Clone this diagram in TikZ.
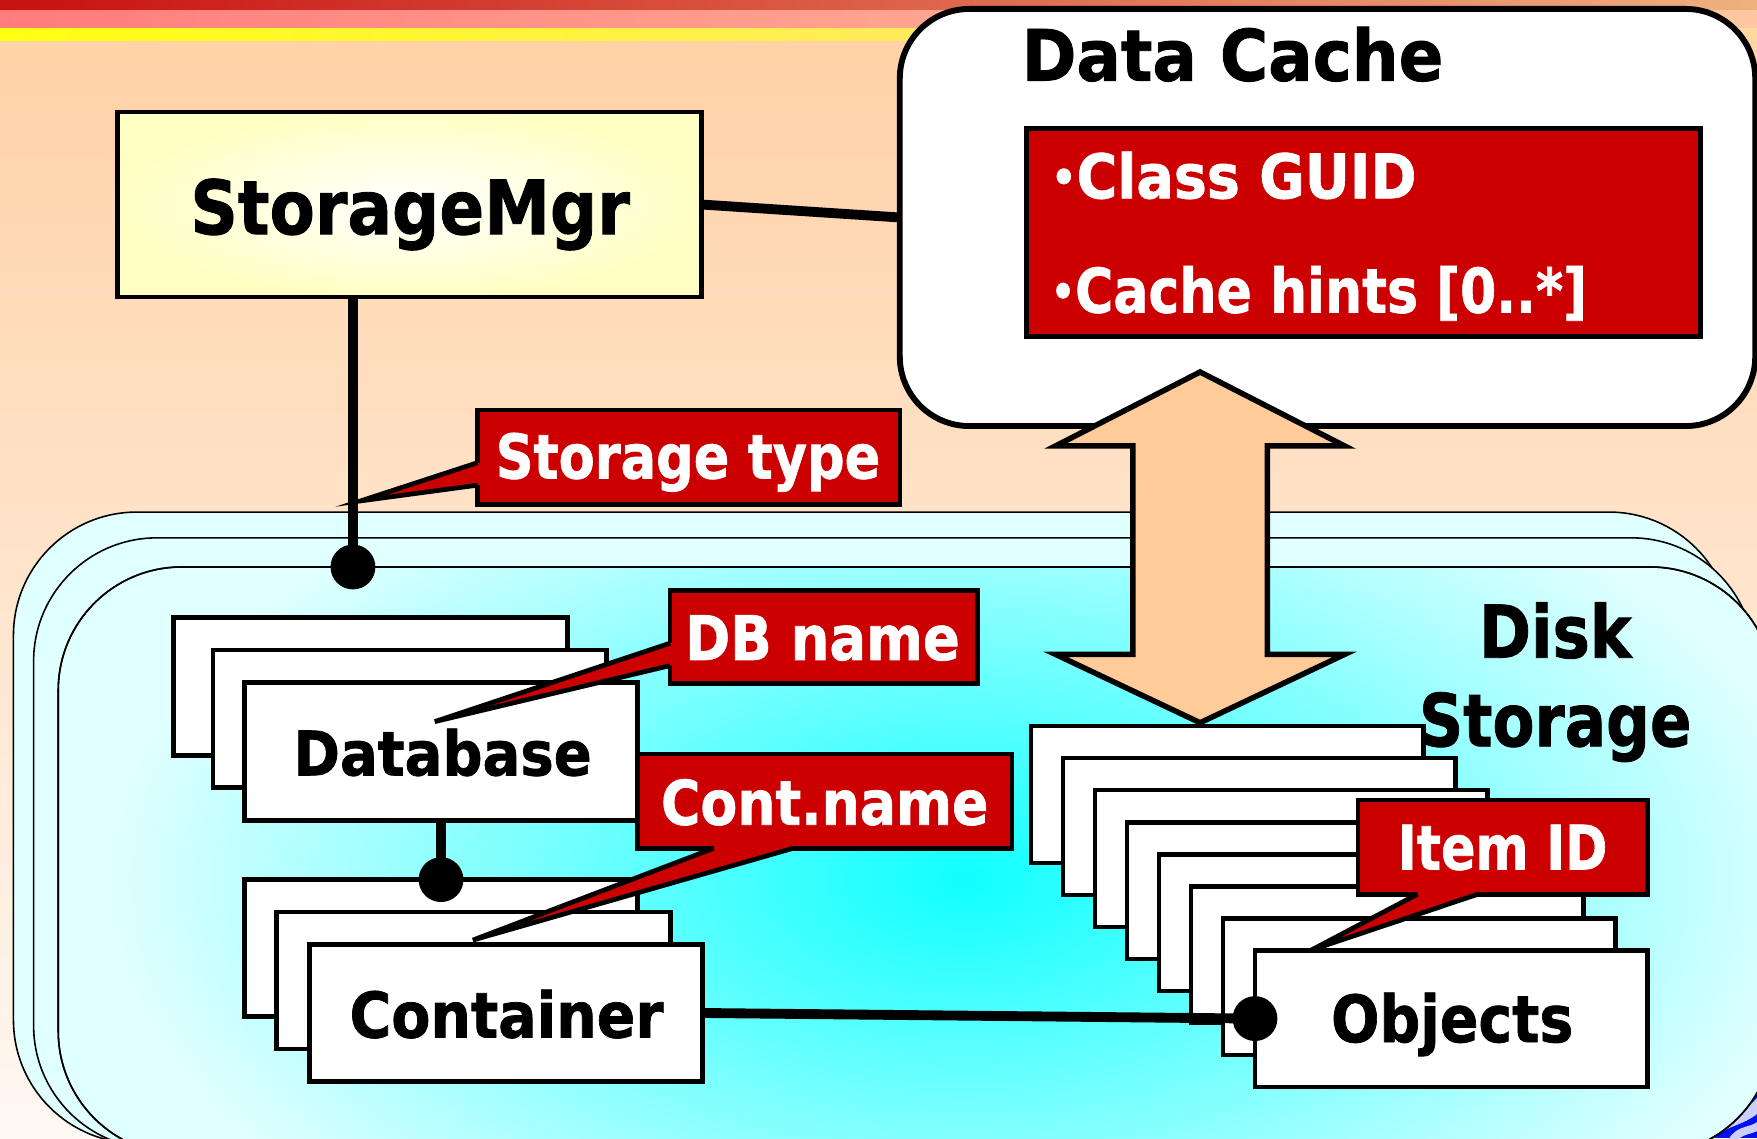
\documentclass[tikz,border=0pt]{standalone}
\usepackage{fontspec}
\setmainfont{DejaVu Sans}[BoldFeatures={FakeBold=1.2}]
\usepackage{graphicx}

\definecolor{bgtop}{HTML}{FFD0A4}
\definecolor{bgbot}{HTML}{FFF8F2}
\definecolor{bandred}{HTML}{C81010}
\definecolor{bandredr}{HTML}{F0B080}
\definecolor{bandpink}{HTML}{FF7C7C}
\definecolor{bandpinkr}{HTML}{FFC8A0}
\definecolor{bandyel}{HTML}{FFFF10}
\definecolor{bandyelr}{HTML}{FFD8A0}
\definecolor{tagred}{HTML}{CC0000}
\definecolor{cyanpale}{HTML}{E0FFFF}
\definecolor{cyanglow}{HTML}{10FFFF}
\definecolor{arrowfill}{HTML}{FFCC99}
\definecolor{mgrfill}{HTML}{FFFFC4}
\definecolor{cornerblue}{HTML}{0010F0}

% set a bold label at a given size, squeezed to a given width (picture units)
\newsavebox\fitbox
\newlength\fitlen
\newcommand\fitlabel[3]{{\fontsize{#1}{#1}\selectfont\bfseries
  \sbox\fitbox{#3}\setlength\fitlen{\wd\fitbox}%
  \pgfmathsetmacro\fitratio{#2*0.28453/\fitlen}%
  \scalebox{\fitratio}[1]{\usebox\fitbox}}}
% small list bullet
\newcommand\lbul{\raisebox{0.09em}{\scalebox{0.72}{•}}}

\tikzset{
  pane/.style={draw=black, line width=1.2pt, fill=white, inner sep=0pt, outer sep=0pt, anchor=north west},
  tag/.style={draw=black, line width=1.2pt, fill=tagred, inner sep=0pt, outer sep=0pt, anchor=north west},
  txt/.style={inner sep=0pt, outer sep=0pt, anchor=base},
  wtxt/.style={txt, text=white},
  link/.style={line width=2.5pt},
  joint/.style={circle, fill=black, minimum size=0.4cm, inner sep=0pt},
  layer/.style={draw=black, line width=0.4pt, fill=cyanpale, rounded corners=1.1cm, inner sep=0pt, outer sep=0pt, anchor=north west},
  pointer/.style={line width=1.2pt, miter limit=12},
}

\begin{document}
\begin{tikzpicture}[x=0.01cm, y=-0.01cm, line join=miter]
\useasboundingbox (0,0) rectangle (1568,1016);

% page background and title bands
\shade[top color=bgtop, bottom color=bgbot] (0,0) rectangle (1568,1016);
\shade[left color=bandred, right color=bandredr] (0,0) rectangle (1568,9);
\shade[left color=bandpink, right color=bandpinkr] (0,9) rectangle (1568,25);
\shade[left color=bandyel, right color=bandyelr] (0,25) rectangle (1568,36);

% decorative corner pattern
\begin{scope}
  \clip (1460,930) rectangle (1568,1016);
  \fill[cornerblue] (1460,930) rectangle (1568,1016);
  \draw[white!80!cornerblue, line width=3pt] (1520,1020) .. controls (1535,995) and (1555,1005) .. (1575,980);
  \draw[white!80!cornerblue, line width=2pt] (1545,1020) .. controls (1552,1005) and (1565,1012) .. (1575,1000);
\end{scope}

% disk storage layers
\node[layer, minimum width=15.33cm, minimum height=5.63cm] (lay1) at (12,457) {};
\node[layer, minimum width=15.35cm, minimum height=5.45cm] (lay2) at (30,480) {};
\node[layer, minimum width=15.30cm, minimum height=5.24cm] (lay3) at (52,506) {};
\begin{scope}
  \clip[rounded corners=1.1cm] (lay3.north west) rectangle (lay3.south east);
  \shade[inner color=cyanglow, outer color=cyanpale] (860,785) ellipse [x radius=7.6cm, y radius=4.2cm];
\end{scope}
\draw[line width=0.4pt, rounded corners=1.1cm] (lay3.north west) rectangle (lay3.south east);

% data cache
\node[pane, rounded corners=0.62cm, line width=1.5pt, minimum width=7.63cm, minimum height=3.72cm] (dc) at (803,8) {};
\node[txt] (dct) at (1100,72) {\fitlabel{18}{376}{Data Cache}};
\node[tag, minimum width=6.01cm, minimum height=1.85cm] (dcl) at (916,115) {};
\node[wtxt, anchor=base west] (dcl1) at (938,177) {\fitlabel{15.6}{326}{\lbul Class GUID}};
\node[wtxt, anchor=base west] (dcl2) at (938,279) {\fitlabel{15.6}{478}{\lbul Cache hints [0..*]}};

% two-way transfer arrow
\filldraw[fill=arrowfill, draw=black, line width=1.4pt]
  (1071,332) -- (1200,398) -- (1131,398) -- (1131,584) -- (1200,584) -- (1071,645)
  -- (942,584) -- (1011,584) -- (1011,398) -- (942,398) -- cycle;

% storage manager
\node[pane, inner color=white, outer color=mgrfill, minimum width=5.21cm, minimum height=1.65cm] (sm) at (105,100) {};
\node[txt] (smt) at (366,209) {\fitlabel{19}{392}{StorageMgr}};
\draw[link] (sm.east) -- (dc.west);
\node[joint] (jA) at (315,506) {};
\draw[link] (sm.south -| jA) -- (jA.center);

% database stack
\node[pane, minimum width=3.51cm, minimum height=1.23cm] (db0) at (155,551) {};
\node[pane, minimum width=3.51cm, minimum height=1.23cm] (db1) at (190,580) {};
\node[pane, minimum width=3.51cm, minimum height=1.23cm] (db2) at (218,609) {};
\node[txt] (dbt) at (395,692) {\fitlabel{15.6}{266}{Database}};

% container stack
\node[pane, minimum width=3.51cm, minimum height=1.22cm] (ct0) at (218,785) {};
\node[pane, minimum width=3.51cm, minimum height=1.22cm] (ct1) at (247,814) {};
\node[pane, minimum width=3.51cm, minimum height=1.22cm] (ct2) at (276,843) {};
\node[txt] (ctt) at (452,926) {\fitlabel{16}{280}{Container}};
\node[joint] (jB) at (db2.south |- ct0.north) {};
\draw[link] (db2.south) -- (jB.center);

% object stack
\foreach \i in {0,...,7}
  \node[pane, minimum width=3.50cm, minimum height=1.22cm] (ob\i) at ({920+28.57*\i},{648+28.57*\i}) {};
\node[txt] (obt) at (1296,930) {\fitlabel{16.5}{216}{Objects}};
\node[joint] (jC) at (ob7.west) {};
\draw[link] (ct2.east) -- (jC.center);

% disk storage title
\node[txt] (dst1) at (1388,587) {\fitlabel{18.5}{136}{Disk}};
\node[txt] (dst2) at (1388,666) {\fitlabel{18.5}{243}{Storage}};

% callout: storage type
\node[tag, minimum width=3.77cm, minimum height=0.84cm] (cst) at (426,366) {};
\fill[tagred] (436,413) -- (426,413) -- (322,447) -- (426,433) -- (436,433) -- cycle;
\draw[pointer] (426,413) -- (322,447) -- (426,433);
\node[wtxt] (cstt) at (614,427) {\fitlabel{15.6}{343}{Storage type}};

% callout: DB name
\node[tag, minimum width=2.74cm, minimum height=0.83cm] (cdb) at (598,527) {};
\fill[tagred] (608,574) -- (598,574) -- (388,644) -- (598,594) -- (608,594) -- cycle;
\draw[pointer] (598,574) -- (388,644) -- (598,594);
\node[wtxt] (cdbt) at (734,589) {\fitlabel{15.6}{245}{DB name}};

% callout: container name
\node[tag, minimum width=3.34cm, minimum height=0.84cm] (ccn) at (569,673) {};
\fill[tagred] (637,747) -- (637,757) -- (422,839) -- (708,757) -- (708,747) -- cycle;
\draw[pointer] (637,757) -- (422,839) -- (708,757);
\node[wtxt] (ccnt) at (736,736) {\fitlabel{15.6}{292}{Cont.name}};

% callout: item id
\node[tag, minimum width=2.58cm, minimum height=0.84cm] (cid) at (1212,714) {};
\fill[tagred] (1265,788) -- (1265,798) -- (1170,848) -- (1319,798) -- (1319,788) -- cycle;
\draw[pointer] (1265,798) -- (1170,848) -- (1319,798);
\node[wtxt] (cidt) at (1341,776) {\fitlabel{15.6}{187}{Item ID}};
\end{tikzpicture}
\end{document}
